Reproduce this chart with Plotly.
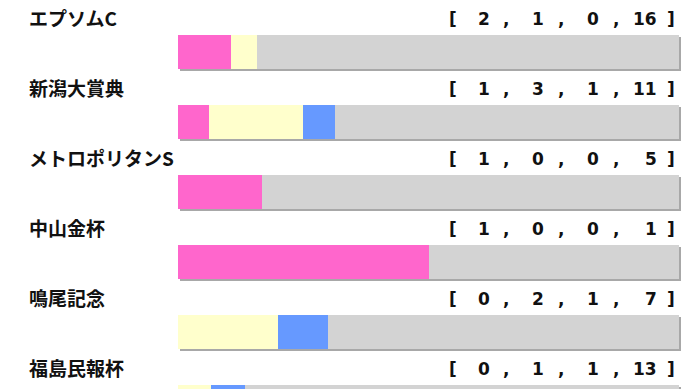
import plotly.graph_objects as go

races = ["エプソムC", "新潟大賞典", "メトロポリタンS", "中山金杯", "鳴尾記念", "福島民報杯"]
first = [2, 1, 1, 1, 0, 0]
second = [1, 3, 0, 0, 2, 1]
third = [0, 1, 0, 0, 1, 1]
other = [16, 11, 5, 1, 7, 13]

colors = ["#FF66CC", "#FFFFCC", "#6699FF", "#D3D3D3"]
series = [first, second, third, other]

W, H = 692, 389
ROW = 70
bar_center = [52 + ROW * i for i in range(len(races))]
label_y = [17 + ROW * i for i in range(len(races))]

totals = [sum(s[i] for s in series) for i in range(len(races))]

fig = go.Figure()

# shadow
fig.add_trace(go.Bar(
    x=[1.0] * len(races), y=[c + 1.5 for c in bar_center], base=0.003,
    orientation="h", width=34, marker=dict(color="#A8A8A8", line=dict(width=0)),
    hoverinfo="skip", showlegend=False))

bases = [0.0] * len(races)
for s, col in zip(series, colors):
    frac = [s[i] / totals[i] for i in range(len(races))]
    fig.add_trace(go.Bar(
        x=frac, y=bar_center, base=bases[:], orientation="h", width=34,
        marker=dict(color=col, line=dict(width=0)), showlegend=False))
    bases = [bases[i] + frac[i] for i in range(len(races))]

# x axis maps [0,1] onto pixel 178..679
x0, x1 = 178, 679
xr0 = -x0 / (x1 - x0)
xr1 = 1 + (W - x1) / (x1 - x0)

def px(p):
    return xr0 + (xr1 - xr0) * p / W

lab_font = dict(family="Noto Sans CJK JP", size=19, color="#111111")
num_font = dict(family="DejaVu Sans", size=17, color="#111111")

ann = []
for i, name in enumerate(races):
    y = label_y[i]
    ann.append(dict(x=px(27), y=y, text="<b>%s</b>" % name, xanchor="left", yanchor="middle",
                    showarrow=False, font=lab_font))
    ann.append(dict(x=px(447), y=y + 2, text="<b>[</b>", xanchor="left", yanchor="middle",
                    showarrow=False, font=num_font))
    vals = [first[i], second[i], third[i], other[i]]
    rights = [492, 546, 601, 659]
    commas = [506, 561, 616]
    for v, r in zip(vals, rights):
        ann.append(dict(x=px(r), y=y + 2, text="<b>%d</b>" % v, xanchor="right", yanchor="middle",
                        showarrow=False, font=num_font))
    for c in commas:
        ann.append(dict(x=px(c), y=y + 2, text="<b>,</b>", xanchor="center", yanchor="middle",
                        showarrow=False, font=num_font))
    ann.append(dict(x=px(677), y=y + 2, text="<b>]</b>", xanchor="right", yanchor="middle",
                    showarrow=False, font=num_font))

fig.update_layout(
    width=W, height=H, margin=dict(l=0, r=0, t=0, b=0),
    paper_bgcolor="white", plot_bgcolor="white",
    barmode="overlay", bargap=0,
    xaxis=dict(range=[xr0, xr1], visible=False, fixedrange=True),
    yaxis=dict(range=[H, 0], visible=False, fixedrange=True),
    annotations=ann, showlegend=False,
)

fig.write_html("out.html")
